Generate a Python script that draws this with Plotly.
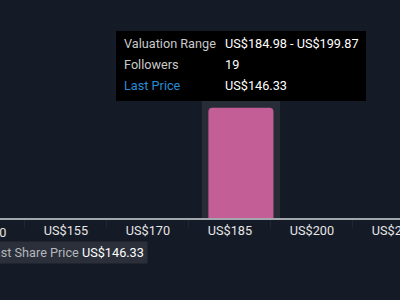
import plotly.graph_objects as go

# Data
bin_centers = [187]
followers = [19]
tick_values = [140, 155, 170, 185, 200, 215]
tick_labels = ["US$140", "US$155", "US$170", "US$185", "US$200", "US$215"]
valuation_range = "US$184.98 - US$199.87"
follower_count = "19"
last_price = "US$146.33"

BG = "#151b26"
BAR = "#c45e97"
HIGHLIGHT = "#272c37"
FONT = "Roboto"
FS = 12.7

X_RANGE = [142.93, 216.1]

fig = go.Figure()
fig.add_trace(go.Bar(
    x=bin_centers, y=followers, width=[11.9],
    marker=dict(color=BAR, cornerradius=4, line=dict(width=0)),
    hoverinfo="skip",
))

W, H = 400, 300
plot_h = 218

def py(p):
    return (plot_h - p) / plot_h

def xpaper(v):
    return (v - X_RANGE[0]) / (X_RANGE[1] - X_RANGE[0])

shapes = [
    dict(type="rect", xref="x", yref="paper", x0=bin_centers[0] - 7.16, x1=bin_centers[0] + 7.16,
         y0=0, y1=0.7, fillcolor=HIGHLIGHT, line=dict(width=0), layer="below"),
    dict(type="rect", xref="paper", yref="paper", x0=116 / W, x1=366 / W, y0=py(101), y1=py(31),
         fillcolor="#000000", line=dict(width=0), layer="above"),
]

ann = []
rows = [("Valuation Range", valuation_range, 43, "#c9c9c9"),
        ("Followers", follower_count, 64, "#c9c9c9"),
        ("Last Price", last_price, 85, "#2a8ad6")]
for lab, val, y, col in rows:
    ann.append(dict(xref="paper", yref="paper", x=122 / W, y=py(y), xanchor="left", yanchor="middle",
                    text=lab, showarrow=False, font=dict(family=FONT, size=FS, color=col)))
    ann.append(dict(xref="paper", yref="paper", x=223 / W, y=py(y), xanchor="left", yanchor="middle",
                    text=val, showarrow=False, font=dict(family=FONT, size=FS, color="#ffffff")))

# tick labels that fall outside the visible range (partially visible at the edge)
for v, t in zip(tick_values, tick_labels):
    if v < X_RANGE[0]:
        ann.append(dict(xref="paper", yref="paper", x=xpaper(v), y=py(232), xanchor="center",
                        yanchor="middle", text=t, showarrow=False,
                        font=dict(family=FONT, size=FS, color="#e6e6e6")))

ann.append(dict(xref="paper", yref="paper", x=148 / W, y=py(252.5), xanchor="right", yanchor="middle",
                text="<span style='color:#b4b7bd'>Last Share Price</span> " + last_price,
                showarrow=False, bgcolor="#2a2f39", borderpad=3,
                font=dict(family=FONT, size=FS, color="#ffffff")))

fig.update_layout(
    width=W, height=H,
    margin=dict(l=0, r=0, t=0, b=H - plot_h),
    paper_bgcolor=BG, plot_bgcolor=BG,
    showlegend=False,
    shapes=shapes,
    annotations=ann,
    xaxis=dict(range=X_RANGE, tickvals=tick_values, ticktext=tick_labels,
               showgrid=False, zeroline=False, showline=True, linecolor="#a3a7ad", linewidth=2,
               ticks="", ticklabeloverflow="allow", automargin=False,
               tickfont=dict(family=FONT, size=FS, color="#e6e6e6"),
               minor=dict(tickvals=[147.5, 162.5, 177.5, 192.5, 207.5], ticks="outside",
                          ticklen=8, tickcolor="#1f2531", tickwidth=1),
               fixedrange=True),
    yaxis=dict(range=[0, 37.55], visible=False, fixedrange=True, automargin=False),
)

fig.write_html("out.html", config={"displayModeBar": False})
